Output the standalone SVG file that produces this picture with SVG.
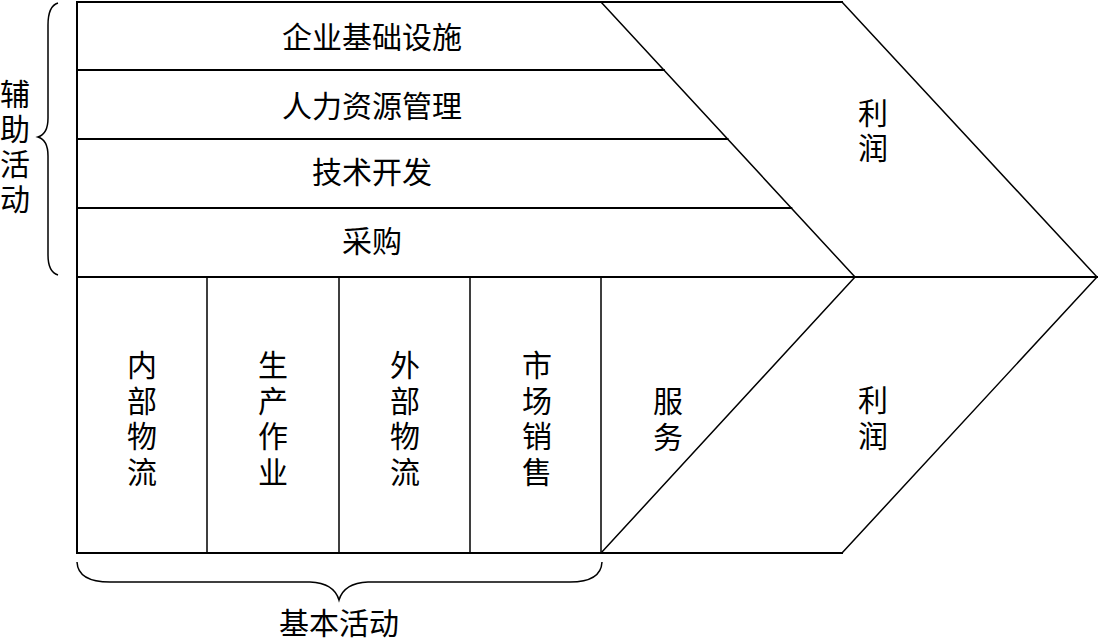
<svg xmlns="http://www.w3.org/2000/svg" width="1098" height="640" viewBox="0 0 1098 640">
<style>
.ln{stroke:#000;fill:none;stroke-width:2;stroke-linecap:square}
.thin{stroke:#000;fill:none;stroke-width:1.5}
.t{font-family:"Noto Sans CJK SC","Noto Sans",sans-serif;font-size:30px;fill:#000;text-anchor:middle}
</style>
<rect width="1098" height="640" fill="#fff"/>
<g id="connectors">
<path class="ln" d="M77,2 L842,2 M77,2 L77,553 M77,553 L842,553 M77,277 L1097,277"/>
<path class="thin" d="M601,2 L855,277 L601,553 M842,2 L1097,277 L842,553"/>
<path class="ln" d="M77,70 L663.8,70 M77,139 L727.5,139 M77,208 L791.3,208"/>
<path class="thin" d="M207,277 L207,553 M339,277 L339,553 M470,277 L470,553 M601,277 L601,553"/>
<path class="thin" d="M58,3 Q48,6 48,25 L48,118 Q48,134 38,137 Q48,140 48,156 L48,255 Q48,272 58,275"/>
<path class="thin" d="M77,562 Q78,582 110,582 L310,582 Q334,583 339,600 Q344,583 368,582 L570,582 Q601,582 602,562"/>
</g>
<g id="infra"><text class="t" x="372" y="48">企业基础设施</text></g>
<g id="hr"><text class="t" x="372" y="117">人力资源管理</text></g>
<g id="tech"><text class="t" x="372" y="183">技术开发</text></g>
<g id="procure"><text class="t" x="372" y="252">采购</text></g>
<g id="profit-top"><text class="t" x="873" y="124">利</text><text class="t" x="873" y="159">润</text></g>
<g id="inbound"><text class="t" x="142" y="376">内</text><text class="t" x="142" y="411.5">部</text><text class="t" x="142" y="447">物</text><text class="t" x="142" y="482.5">流</text></g>
<g id="ops"><text class="t" x="273" y="376">生</text><text class="t" x="273" y="411.5">产</text><text class="t" x="273" y="447">作</text><text class="t" x="273" y="482.5">业</text></g>
<g id="outbound"><text class="t" x="405" y="376">外</text><text class="t" x="405" y="411.5">部</text><text class="t" x="405" y="447">物</text><text class="t" x="405" y="482.5">流</text></g>
<g id="marketing"><text class="t" x="537" y="376">市</text><text class="t" x="537" y="411.5">场</text><text class="t" x="537" y="447">销</text><text class="t" x="537" y="482.5">售</text></g>
<g id="service"><text class="t" x="668" y="412">服</text><text class="t" x="668" y="448">务</text></g>
<g id="profit-bottom"><text class="t" x="873" y="411">利</text><text class="t" x="873" y="447">润</text></g>
<g id="support-label"><text class="t" x="15" y="105">辅</text><text class="t" x="15" y="140">助</text><text class="t" x="15" y="175">活</text><text class="t" x="15" y="210">动</text></g>
<g id="primary-label"><text class="t" x="339" y="634">基本活动</text></g>
</svg>
